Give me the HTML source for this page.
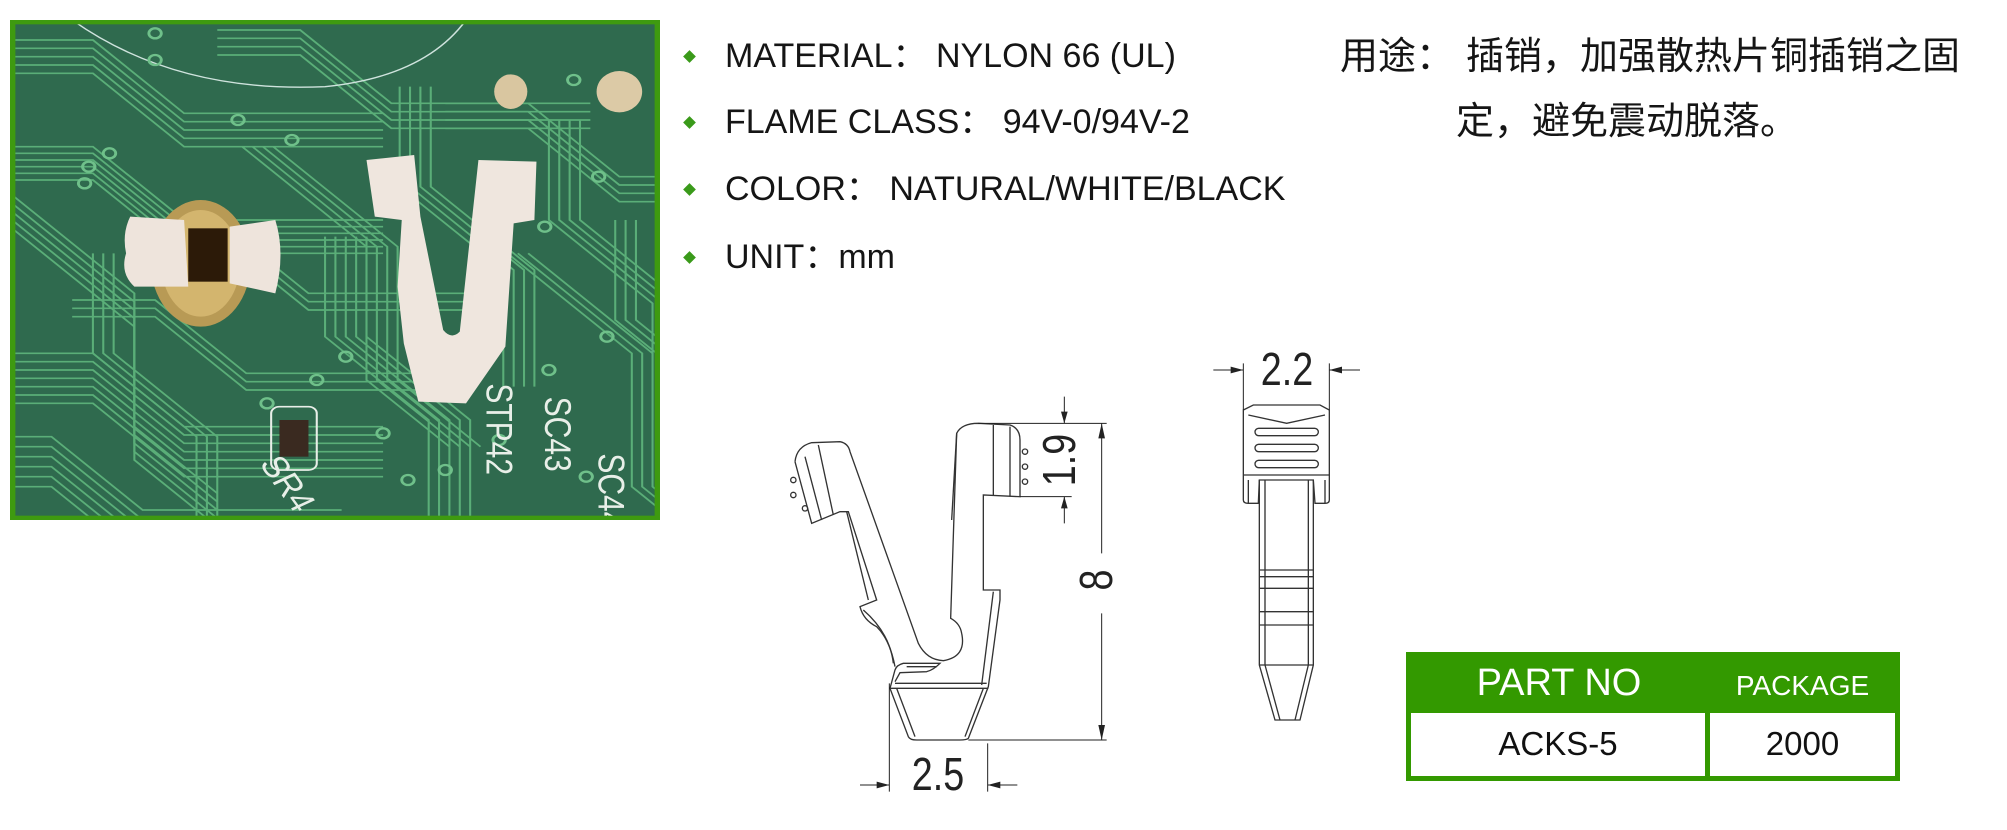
<!DOCTYPE html>
<html><head><meta charset="utf-8"><style>
html,body{margin:0;padding:0;background:#fff;}
body{width:2007px;height:830px;position:relative;overflow:hidden;font-family:"Liberation Sans","Noto Sans CJK SC",sans-serif;}
.t{position:absolute;white-space:nowrap;color:#151515;}
.spec{font-size:34px;left:725px;line-height:40px;}
.dia{position:absolute;width:9px;height:9px;background:#3a9a1a;transform:rotate(45deg);left:685px;}
.cn{font-size:38px;font-family:"Noto Sans CJK SC","WenQuanYi Zen Hei",sans-serif;line-height:44px;}
</style></head><body>

<svg style="position:absolute;left:10px;top:20px" width="650" height="500" viewBox="0 0 1568 1500" preserveAspectRatio="none">
<defs>
<polyline id="tr" fill="none" stroke="#5aae78" stroke-width="5" points="0,0 200,0 420,220 900,220"/>
<polyline id="tr2" fill="none" stroke="#5aae78" stroke-width="5" points="0,0 0,300 250,550 250,900"/>
<polyline id="tr3" fill="none" stroke="#5aae78" stroke-width="5" points="0,0 300,300 300,700 500,900"/>
</defs>
<rect x="0" y="0" width="1568" height="1500" fill="#2f6a4e"/>
<g>
<use href="#tr" x="0" y="380"/><use href="#tr" x="0" y="400"/><use href="#tr" x="0" y="420"/><use href="#tr" x="0" y="440"/><use href="#tr" x="0" y="460"/><use href="#tr" x="0" y="480"/>
<use href="#tr" x="0" y="1000"/><use href="#tr" x="0" y="1025"/><use href="#tr" x="0" y="1050"/><use href="#tr" x="0" y="1075"/><use href="#tr" x="0" y="1100"/><use href="#tr" x="0" y="1125"/><use href="#tr" x="0" y="1150"/>
<use href="#tr" x="-100" y="1250"/><use href="#tr" x="-100" y="1280"/><use href="#tr" x="-100" y="1310"/><use href="#tr" x="-100" y="1340"/><use href="#tr" x="-100" y="1370"/><use href="#tr" x="-100" y="1400"/>
<use href="#tr" x="0" y="60"/><use href="#tr" x="0" y="85"/><use href="#tr" x="0" y="110"/><use href="#tr" x="0" y="135"/><use href="#tr" x="0" y="160"/>
<use href="#tr" x="500" y="30"/><use href="#tr" x="500" y="55"/><use href="#tr" x="500" y="80"/><use href="#tr" x="500" y="105"/>
<use href="#tr2" x="760" y="650"/><use href="#tr2" x="785" y="650"/><use href="#tr2" x="810" y="650"/><use href="#tr2" x="835" y="650"/><use href="#tr2" x="860" y="650"/>
<use href="#tr2" x="940" y="200"/><use href="#tr2" x="965" y="200"/><use href="#tr2" x="990" y="200"/><use href="#tr2" x="1015" y="200"/>
<use href="#tr2" x="1300" y="300"/><use href="#tr2" x="1325" y="300"/><use href="#tr2" x="1350" y="300"/><use href="#tr2" x="1375" y="300"/>
<use href="#tr2" x="1460" y="600"/><use href="#tr2" x="1485" y="600"/><use href="#tr2" x="1510" y="600"/>
<use href="#tr2" x="200" y="700"/><use href="#tr2" x="225" y="700"/><use href="#tr2" x="250" y="700"/>
<use href="#tr" x="1050" y="250"/><use href="#tr" x="1050" y="275"/><use href="#tr" x="1050" y="300"/><use href="#tr" x="1050" y="325"/>
<use href="#tr" x="300" y="600"/><use href="#tr" x="300" y="625"/><use href="#tr" x="300" y="650"/>
<use href="#tr3" x="0" y="520"/><use href="#tr3" x="0" y="545"/><use href="#tr3" x="0" y="570"/><use href="#tr3" x="0" y="595"/><use href="#tr3" x="0" y="620"/>
<use href="#tr3" x="560" y="380"/><use href="#tr3" x="585" y="380"/><use href="#tr3" x="610" y="380"/><use href="#tr3" x="635" y="380"/>
<use href="#tr3" x="1200" y="700"/><use href="#tr3" x="1225" y="700"/><use href="#tr3" x="1250" y="700"/>
<use href="#tr" x="150" y="840"/><use href="#tr" x="150" y="865"/><use href="#tr" x="150" y="890"/>
</g>
<path d="M150,0 Q400,220 760,200 Q1000,170 1100,0" fill="none" stroke="#cfe3dd" stroke-width="4"/>
<g fill="none" stroke="#6fc08a" stroke-width="7">
<circle cx="180" cy="490" r="15"/><circle cx="240" cy="400" r="15"/><circle cx="680" cy="360" r="15"/><circle cx="550" cy="300" r="15"/>
<circle cx="810" cy="1010" r="15"/><circle cx="740" cy="1080" r="15"/><circle cx="1290" cy="620" r="15"/><circle cx="1440" cy="950" r="15"/>
<circle cx="1360" cy="180" r="15"/><circle cx="900" cy="1240" r="15"/><circle cx="1050" cy="1350" r="15"/><circle cx="1180" cy="1260" r="15"/>
<circle cx="350" cy="40" r="15"/><circle cx="350" cy="120" r="15"/><circle cx="1420" cy="470" r="15"/><circle cx="1300" cy="1050" r="15"/>
<circle cx="190" cy="440" r="15"/><circle cx="620" cy="1150" r="15"/><circle cx="960" cy="1380" r="15"/><circle cx="1390" cy="1370" r="15"/>
</g>
<ellipse cx="1208" cy="215" rx="40" ry="52" fill="#d9c6a0"/>
<ellipse cx="1470" cy="215" rx="55" ry="62" fill="#dccaa6"/>
<ellipse cx="460" cy="730" rx="120" ry="190" fill="#b89a55"/>
<ellipse cx="460" cy="730" rx="95" ry="160" fill="#d3b56e"/>
<path d="M290,590 L420,600 L430,800 L300,800 Q265,760 280,700 Q270,640 290,590 Z" fill="#eee4dc"/>
<path d="M530,620 L640,600 Q665,700 640,820 L530,790 Z" fill="#eee4dc"/>
<rect x="430" y="625" width="95" height="160" fill="#2c1a08"/>
<path d="M860,420 L975,405 L990,590 L1045,930 Q1065,960 1085,935 L1130,420 L1270,425 L1265,600 L1215,610 L1195,980 L1100,1150 L985,1145 L950,970 L935,800 L945,600 L880,590 Z" fill="#efe6de"/>
<rect x="630" y="1160" width="110" height="190" rx="20" fill="none" stroke="#e8eee8" stroke-width="5"/>
<rect x="650" y="1200" width="70" height="110" fill="#3a2a20"/>
<g fill="#e8efe8" font-family="Liberation Sans,sans-serif" font-size="90">
<text transform="translate(1150,1090) rotate(90)">STP42</text>
<text transform="translate(1290,1130) rotate(90)">SC43</text>
<text transform="translate(1420,1300) rotate(90)">SC44</text>
<text transform="translate(600,1330) rotate(60)">SR4</text>
</g>
<rect x="6" y="6" width="1556" height="1488" fill="none" stroke="#3e9a10" stroke-width="14"/>
</svg>

<div class="dia" style="top:52px"></div><div class="t spec" style="top:36px">MATERIAL： NYLON 66 (UL)</div>
<div class="dia" style="top:118px"></div><div class="t spec" style="top:102px">FLAME CLASS： 94V-0/94V-2</div>
<div class="dia" style="top:185px"></div><div class="t spec" style="top:169px">COLOR： NATURAL/WHITE/BLACK</div>
<div class="dia" style="top:253px"></div><div class="t spec" style="top:237px">UNIT：mm</div>

<div class="t cn" style="left:1340px;top:31px">用途：</div>
<div class="t cn" style="left:1466px;top:31px">插销，加强散热片铜插销之固</div>
<div class="t cn" style="left:1456px;top:96px">定，避免震动脱落。</div>

<svg style="position:absolute;left:0;top:0" width="2007" height="830">
<g transform="translate(780,380) scale(0.33333)" fill="none" stroke="#333" stroke-width="4">
<path d="M45,245 Q50,200 95,188 L180,185 Q205,190 210,215 L415,790 Q440,840 490,842 Q560,830 545,760 Q540,730 512,715 L530,160 Q545,130 595,130 L690,135 Q720,145 720,180 L720,350 L610,345 L610,630 L660,630 L660,660 L625,920 L565,1075 Q560,1080 540,1080 L410,1080 Q390,1080 385,1070 L330,925 L345,870 Q350,855 370,850 L480,850 Q460,870 440,875 L360,878 L345,905"/>
<path d="M45,245 L95,430 L180,395 L205,395 L290,660 L240,680 Q250,720 290,740 Q330,780 345,860"/>
<path d="M75,230 L125,420"/><path d="M115,195 L160,405"/><path d="M200,395 L265,660"/>
<path d="M640,135 L640,345"/><path d="M690,140 L690,350"/><path d="M530,160 L515,420"/>
<path d="M345,910 L620,910"/><path d="M330,925 L625,925"/><path d="M350,925 L405,1070"/><path d="M610,925 L555,1070"/>
<path d="M640,635 L605,915"/><path d="M250,690 Q330,760 340,850"/><path d="M380,860 L470,860"/>
<circle cx="40" cy="300" r="8"/><circle cx="40" cy="345" r="8"/><circle cx="75" cy="385" r="8"/>
<circle cx="735" cy="215" r="8"/><circle cx="735" cy="260" r="8"/><circle cx="735" cy="305" r="8"/>
</g>
<g transform="translate(780,380) scale(0.33333)" stroke="#222" stroke-width="3" fill="#222">
<path d="M595,130 L980,130 M720,350 L875,350 M565,1080 L980,1080 M965,130 L965,520 M965,700 L965,1080 M853,50 L853,130 M853,350 L853,430 M328,910 L328,1235 M623,1090 L623,1235 M240,1215 L328,1215 M623,1215 L712,1215" fill="none"/>
<path d="M965,130 L955,175 L975,175 Z M965,1080 L955,1035 L975,1035 Z M853,130 L843,95 L863,95 Z M853,350 L843,385 L863,385 Z M328,1215 L290,1205 L290,1225 Z M623,1215 L661,1205 L661,1225 Z" stroke="none"/>
</g>
<text x="938" y="790" font-size="46" fill="#222" font-family="Liberation Sans,sans-serif" text-anchor="middle" transform="translate(938,0) scale(0.82,1) translate(-938,0)">2.5</text>
<text x="0" y="0" font-size="46" fill="#222" font-family="Liberation Sans,sans-serif" text-anchor="middle" transform="translate(1112,580) rotate(-90) scale(0.82,1)">8</text>
<text x="0" y="0" font-size="46" fill="#222" font-family="Liberation Sans,sans-serif" text-anchor="middle" transform="translate(1075,460) rotate(-90) scale(0.82,1)">1.9</text>

<g transform="translate(1200,340) scale(0.33333)" fill="none" stroke="#333" stroke-width="4">
<path d="M130,210 L160,195 L360,195 L388,210 L388,480 Q388,490 375,490 L345,490 L340,420 L178,420 L175,490 L145,490 Q130,490 130,480 Z"/>
<path d="M145,225 L260,250 L375,225 M130,405 L388,405 M145,420 L145,490 M375,420 L375,490"/>
<rect x="165" y="265" width="190" height="22" rx="11"/><rect x="165" y="313" width="190" height="22" rx="11"/><rect x="165" y="361" width="190" height="22" rx="11"/>
<path d="M178,420 L178,975 L225,1140 L300,1140 L340,975 L340,420"/>
<path d="M195,420 L195,975 M325,420 L325,975 M178,690 L340,690 M178,710 L340,710 M178,745 L340,745 M178,815 L340,815 M178,855 L340,855 M178,975 L340,975 M195,975 L240,1140 M325,975 L285,1140"/>
</g>
<g transform="translate(1200,340) scale(0.33333)" stroke="#222" stroke-width="3" fill="#222">
<path d="M130,70 L130,210 M388,70 L388,210 M40,90 L130,90 M388,90 L480,90" fill="none"/>
<path d="M130,90 L92,80 L92,100 Z M388,90 L426,80 L426,100 Z" stroke="none"/>
</g>
<text x="0" y="0" font-size="46" fill="#222" font-family="Liberation Sans,sans-serif" text-anchor="middle" transform="translate(1287,385) scale(0.82,1)">2.2</text>
</svg>

<div style="position:absolute;left:1406px;top:652px;width:494px;height:129px;background:#339900;"></div>
<div style="position:absolute;left:1411px;top:713px;width:294px;height:63px;background:#fff;"></div>
<div style="position:absolute;left:1710px;top:713px;width:185px;height:63px;background:#fff;"></div>
<div class="t" style="left:1406px;width:306px;text-align:center;top:662px;font-size:38px;color:#fff;">PART NO</div>
<div class="t" style="left:1710px;width:185px;text-align:center;top:670px;font-size:28px;color:#fff;">PACKAGE</div>
<div class="t" style="left:1411px;width:294px;text-align:center;top:725px;font-size:33px;color:#111;">ACKS-5</div>
<div class="t" style="left:1710px;width:185px;text-align:center;top:725px;font-size:33px;color:#111;">2000</div>
</body></html>
